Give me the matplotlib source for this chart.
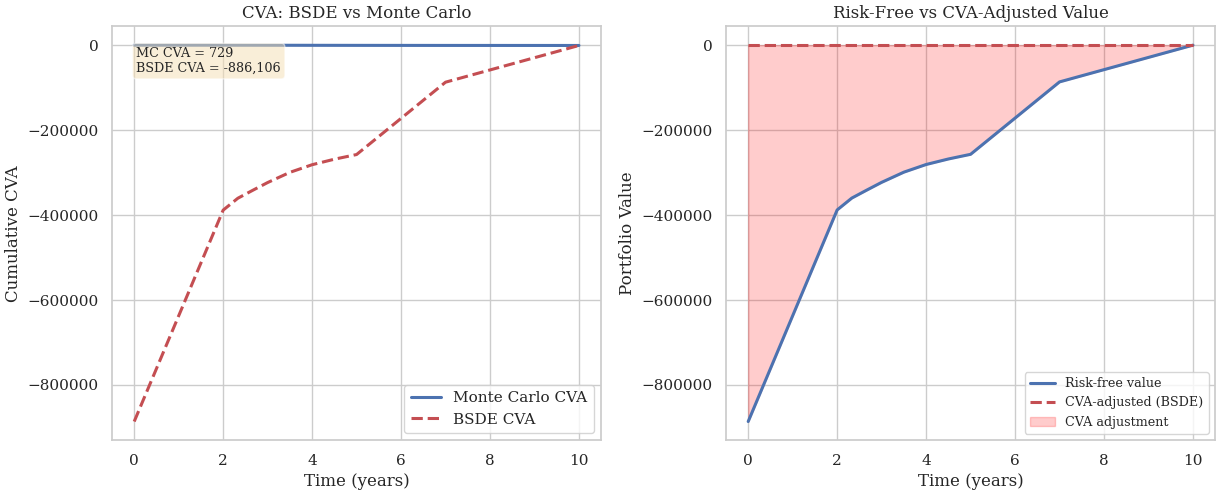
import matplotlib
matplotlib.use("Agg")
import matplotlib.pyplot as plt
import seaborn as sns
import numpy as np

sns.set_theme(style="whitegrid", color_codes=True)
plt.rcParams['font.family'] = ['DejaVu Serif']

# time grid (years) and values
times = [0, 2, 2.33, 2.67, 3, 3.5, 4, 4.5, 5, 7, 10]
bsde_cva = [-886106, -388000, -360000, -341000, -323000, -299000, -281000,
            -268000, -257000, -86500, 0]
mc_cva = [729, 650, 600, 560, 520, 450, 380, 310, 250, 100, 0]
risk_free = bsde_cva
cva_adjusted = [0] * len(times)

mc_total = 729
bsde_total = -886106

fig, (ax1, ax2) = plt.subplots(1, 2, figsize=(12.25, 4.97), dpi=100)

# left panel: cumulative CVA comparison
ax1.plot(times, mc_cva, 'b-', lw=2.2, label='Monte Carlo CVA')
ax1.plot(times, bsde_cva, 'r--', lw=2.2, label='BSDE CVA')
ax1.set_title('CVA: BSDE vs Monte Carlo')
ax1.set_xlabel('Time (years)')
ax1.set_ylabel('Cumulative CVA')
ax1.legend(loc='lower right', fontsize=11)
ax1.text(0.05, 0.95, f'MC CVA = {mc_total:,}\nBSDE CVA = {bsde_total:,}',
         transform=ax1.transAxes, fontsize=9.2, va='top',
         bbox=dict(boxstyle='round', facecolor='wheat', alpha=0.5))

# right panel: risk-free vs adjusted value
ax2.plot(times, risk_free, 'b-', lw=2.2, label='Risk-free value')
ax2.plot(times, cva_adjusted, 'r--', lw=2.2, label='CVA-adjusted (BSDE)')
ax2.fill_between(times, risk_free, cva_adjusted, color='red', alpha=0.2,
                 label='CVA adjustment')
ax2.set_title('Risk-Free vs CVA-Adjusted Value')
ax2.set_xlabel('Time (years)')
ax2.set_ylabel('Portfolio Value')
ax2.legend(loc='lower right', fontsize=9.2)

for ax in (ax1, ax2):
    ax.ticklabel_format(axis='y', style='plain')

plt.subplots_adjust(left=0.0914, right=0.992, top=0.947, bottom=0.114, wspace=0.255)
plt.savefig('out.png')
